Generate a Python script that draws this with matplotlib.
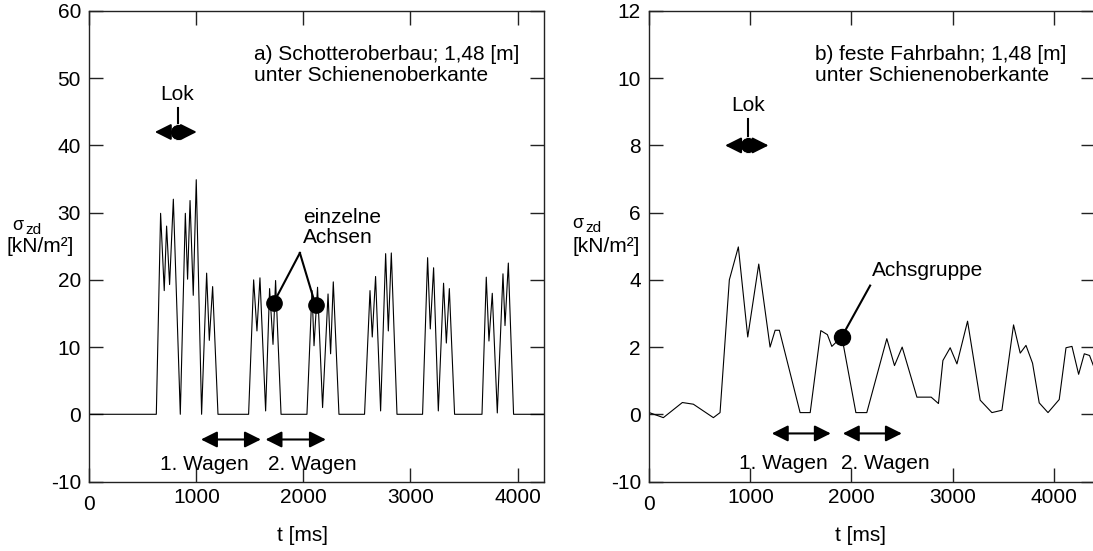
import matplotlib
matplotlib.use("Agg")
import matplotlib.pyplot as plt

plt.rcParams['font.family'] = ['Liberation Sans', 'DejaVu Sans']
FS = 15
plt.rcParams['font.size'] = FS

# a) Schotteroberbau
t_a = [0, 626, 666, 700, 722, 750, 785, 850, 897, 918, 941, 971, 999, 1049,
       1096, 1121, 1152, 1202, 1488, 1535, 1566, 1594, 1647, 1684, 1716, 1740,
       1791, 2033, 2080, 2099, 2132, 2179, 2230, 2254, 2279, 2332, 2571, 2622,
       2643, 2674, 2721, 2768, 2793, 2821, 2874, 3113, 3160, 3185, 3216, 3260,
       3309, 3335, 3363, 3412, 3668, 3708, 3733, 3764, 3811, 3864, 3883, 3914,
       3963, 4250]
s_a = [0, 0, 29.9, 18.4, 28, 19.3, 32, 0, 29.9, 20.1, 31.8, 17.7, 34.9, 0,
       21, 11, 19, 0, 0, 20, 12.4, 20.3, 0.5, 18.7, 10.4, 19.9,
       0, 0, 18.4, 10.2, 18.9, 1, 17.9, 9, 19.7, 0, 0, 18.4,
       11.5, 20.5, 0.5, 23.9, 12.4, 24, 0, 0, 23.3, 12.7, 21.8, 0.5,
       19.5, 10.6, 18.7, 0, 0, 20.4, 10.9, 18, 0.2, 20.9, 13.2, 22.5,
       0, 0]

# b) feste Fahrbahn
t_b = [0, 139, 327, 436, 634, 700, 792, 881, 974, 1083, 1195, 1245, 1287,
       1492, 1592, 1697, 1762, 1806, 1905, 2044, 2152, 2350, 2426, 2502,
       2648, 2789, 2861, 2905, 2977, 3044, 3149, 3274, 3390, 3489, 3604, 3670,
       3727, 3792, 3858, 3945, 4056, 4123, 4182, 4248, 4304, 4356, 4400]
s_b = [0.05, -0.1, 0.35, 0.3, -0.1, 0.05, 4.0, 4.98, 2.3, 4.47, 2.0, 2.5, 2.5,
       0.05, 0.05, 2.49, 2.37, 2.02, 2.31, 0.05, 0.05, 2.25, 1.45, 2.0,
       0.51, 0.51, 0.32, 1.6, 1.98, 1.5, 2.77, 0.42, 0.05, 0.12, 2.66, 1.82,
       2.05, 1.52, 0.34, 0.05, 0.44, 1.98, 2.02, 1.19, 1.8, 1.75, 1.4]

x_ticks = [0, 1000, 2000, 3000, 4000]
x_ticklabels = ['', '1000', '2000', '3000', '4000']
y_ticks_a = [-10, 0, 10, 20, 30, 40, 50, 60]
y_ticks_b = [-2, 0, 2, 4, 6, 8, 10, 12]
y_ticklabels_b = ['-10', '0', '2', '4', '6', '8', '10', '12']

W, H = 1093, 551
fig = plt.figure(figsize=(W / 100, H / 100), dpi=100)


def px_box(x0, x1, y0, y1):
    return [x0 / W, 1 - y1 / H, (x1 - x0) / W, (y1 - y0) / H]


ax1 = fig.add_axes(px_box(89.3, 544.3, 11, 481.5))
ax2 = fig.add_axes(px_box(649.3, 1094.5, 11, 481.5))


def style(ax, xmax, yticks, ylabels, ylim):
    ax.set_xlim(0, xmax)
    ax.set_ylim(*ylim)
    ax.set_xticks(x_ticks)
    ax.set_xticklabels(x_ticklabels)
    ax.set_yticks(yticks)
    ax.set_yticklabels(ylabels)
    ax.tick_params(direction='in', length=10, width=1, top=True, right=True,
                   color='#222222', labelsize=FS)
    ax.tick_params(axis='x', pad=5)
    ax.tick_params(axis='y', pad=6)
    for sp in ax.spines.values():
        sp.set_linewidth(1)
        sp.set_color('#222222')
    # "0" sits lower than the other x labels
    ax.annotate('0', xy=(0, 0), xycoords='axes fraction', xytext=(0, -10),
                textcoords='offset points', ha='center', va='top', fontsize=FS)


style(ax1, 4250, y_ticks_a, [str(v) for v in y_ticks_a], (-10, 60))
style(ax2, 4405, y_ticks_b, y_ticklabels_b, (-2, 12))

ax1.plot(t_a, s_a, color='k', lw=0.8)
ax2.plot(t_b, s_b, color='k', lw=0.8)

ax1.set_xlabel('t [ms]', fontsize=FS)
ax1.xaxis.set_label_coords(0.469, -0.095)
ax2.set_xlabel('t [ms]', fontsize=FS)
ax2.xaxis.set_label_coords(0.474, -0.095)

# y labels
for xs, xz, xk, ys in [(12, 25, 6, 230), (572, 585, 572, 228)]:
    fig.text(xs / W, 1 - ys / H, 'σ', fontsize=13, ha='left', va='baseline')
    fig.text(xz / W, 1 - (ys + 4) / H, 'zd', fontsize=11, ha='left', va='baseline')
    fig.text(xk / W, 1 - 246.5 / H, '[kN/m²]', fontsize=FS, ha='left', va='center')

arrow_kw = dict(arrowstyle='<|-|>,head_length=0.7,head_width=0.35',
                color='k', lw=1.5, shrinkA=0, shrinkB=0, mutation_scale=14)


def lok(ax, x, y, x0, x1, ytop, ytext):
    ax.annotate('', xy=(x1, y), xytext=(x0, y), arrowprops=arrow_kw)
    ax.plot([x, x], [y, ytop], color='k', lw=1.5)
    ax.plot([x], [y], 'o', color='k', ms=11.5, mec='white', mew=0.6)
    ax.text(x, ytext, 'Lok', ha='center', va='center', fontsize=FS)


lok(ax1, 825, 42, 612, 1004, 45.6, 47.6)
lok(ax2, 980, 8.0, 750, 1180, 8.8, 9.2)

# Wagen arrows
for ax, y, a1, a2, ty, tx1, tx2 in [
        (ax1, -3.75, (1043, 1603), (1646, 2210), -7.4, 1071, 2084),
        (ax2, -0.57, (1212, 1796), (1915, 2499), -1.45, 1322, 2333)]:
    ax.annotate('', xy=(a1[1], y), xytext=(a1[0], y), arrowprops=arrow_kw)
    ax.annotate('', xy=(a2[1], y), xytext=(a2[0], y), arrowprops=arrow_kw)
    ax.text(tx1, ty, '1. Wagen', ha='center', va='center', fontsize=FS)
    ax.text(tx2, ty, '2. Wagen', ha='center', va='center', fontsize=FS)

# headers
ax1.text(0.362, 0.885, 'a) Schotteroberbau; 1,48 [m]\nunter Schienenoberkante',
         transform=ax1.transAxes, ha='left', va='center', fontsize=FS,
         linespacing=1.1)
ax2.text(0.372, 0.885, 'b) feste Fahrbahn; 1,48 [m]\nunter Schienenoberkante',
         transform=ax2.transAxes, ha='left', va='center', fontsize=FS,
         linespacing=1.1)

# einzelne Achsen
apex = (1967, 24)
for dx, dy in [(1722, 16.6), (2114, 16.2)]:
    ax1.plot([apex[0], dx], [apex[1], dy], color='k', lw=1.5)
    ax1.plot([dx], [dy], 'o', color='k', ms=11)
ax1.text(1995, 27.8, 'einzelne\nAchsen', ha='left', va='center', fontsize=FS,
         linespacing=1.1)

# Achsgruppe
ax2.plot([2185, 1905], [3.83, 2.31], color='k', lw=1.5)
ax2.plot([1905], [2.31], 'o', color='k', ms=11.5)
ax2.text(2202, 4.27, 'Achsgruppe', ha='left', va='center', fontsize=FS)

fig.savefig('out.png', dpi=100)
